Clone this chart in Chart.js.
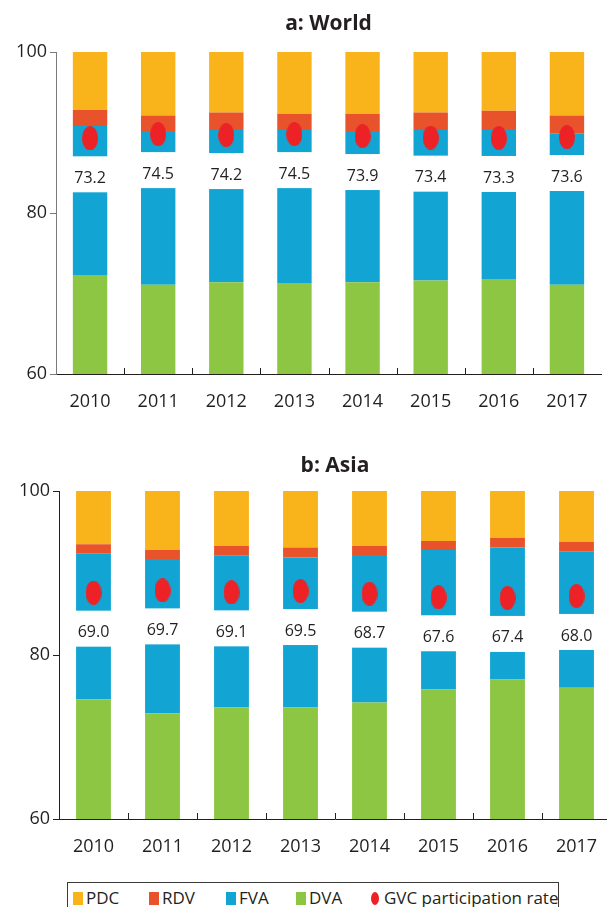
<!DOCTYPE html>
<html><head><meta charset="utf-8">
<script src="https://cdn.jsdelivr.net/npm/chart.js@4/dist/chart.umd.min.js"></script>
<style>
html,body{margin:0;padding:0;background:#fff;overflow:hidden;width:607px;height:907px;position:relative;}
canvas{display:block;}
#wrapA{position:absolute;left:0;top:0;}
#wrapB{position:absolute;left:0;top:440px;}
#legend{position:absolute;left:67px;top:882px;width:492px;height:34px;border:1px solid #3a3a3a;box-sizing:border-box;font-family:"Open Sans",sans-serif;font-size:17px;color:#231f20;}
.it{position:absolute;top:6px;height:20px;line-height:20px;white-space:nowrap;}
.mk{position:absolute;top:3px;width:10px;height:13px;}
.tx{position:absolute;left:13px;top:-1px;}
</style>
</head><body>
<div id="wrapA"><canvas id="cA" width="610" height="420"></canvas></div>
<div id="wrapB"><canvas id="cB" width="620" height="425"></canvas></div>
<div id="legend"></div>
<script>
// ---- data ----
const years = ['2010','2011','2012','2013','2014','2015','2016','2017'];
const yTicks = [60, 80, 100];

const worldDVA = [72.3, 71.1, 71.4, 71.3, 71.4, 71.6, 71.8, 71.1];
const worldFVA = [18.5, 19.1, 18.9, 19.0, 18.8, 18.7, 18.5, 18.8];
const worldRDV = [2.0, 1.9, 2.2, 2.0, 2.1, 2.2, 2.4, 2.2];
const worldPDC = [7.2, 7.9, 7.5, 7.7, 7.7, 7.5, 7.3, 7.9];
const worldGVC = [73.2, 74.5, 74.2, 74.5, 73.9, 73.4, 73.3, 73.6];

const asiaDVA = [74.6, 72.9, 73.6, 73.6, 74.2, 75.8, 77.0, 76.0];
const asiaFVA = [17.8, 18.8, 18.5, 18.3, 18.0, 17.0, 16.1, 16.6];
const asiaRDV = [1.1, 1.1, 1.2, 1.2, 1.1, 1.1, 1.2, 1.2];
const asiaPDC = [6.5, 7.2, 6.7, 6.9, 6.7, 6.1, 5.7, 6.2];
const asiaGVC = [69.0, 69.7, 69.1, 69.5, 68.7, 67.6, 67.4, 68.0];

const seriesNames = ['PDC', 'RDV', 'FVA', 'DVA', 'GVC participation rate'];
const colors = {PDC:'#F9B31B', RDV:'#E8532B', FVA:'#12A5D3', DVA:'#8DC642', GVC:'#EC2226'};
const FONT = '"Open Sans", sans-serif';
const TXT = '#231f20';

// ellipse point style
function ellipseCanvas(w, h, col){
  const c = document.createElement('canvas');
  c.width = w; c.height = h;
  const x = c.getContext('2d');
  x.fillStyle = col;
  x.beginPath();
  x.ellipse(w/2, h/2, w/2, h/2, 0, 0, Math.PI*2);
  x.fill();
  return c;
}
const dotImg = ellipseCanvas(16, 24, colors.GVC);

const gvcLabels = {
  id: 'gvcLabels',
  afterDatasetsDraw(chart){
    const ctx = chart.ctx;
    const barMeta = chart.getDatasetMeta(1);
    const ptMeta = chart.getDatasetMeta(4);
    const vals = chart.data.datasets[4].data;
    ptMeta.data.forEach((pt, i) => {
      const bar = barMeta.data[i];
      const w = bar.width;
      ctx.save();
      ctx.fillStyle = '#fff';
      ctx.fillRect(bar.x - w/2 - 1, pt.y + 18, w + 2, 36);
      ctx.fillStyle = TXT;
      ctx.font = '16px ' + FONT;
      ctx.textAlign = 'center';
      ctx.textBaseline = 'middle';
      ctx.fillText(vals[i].toFixed(1), bar.x, pt.y + 40);
      ctx.restore();
    });
  }
};

const extras = {
  id: 'extras',
  afterDraw(chart, args, opts){
    const ctx = chart.ctx;
    const ca = chart.chartArea;
    const xs = chart.scales.x;
    ctx.save();
    // inward ticks between categories
    ctx.strokeStyle = '#231f20';
    ctx.lineWidth = 1;
    for (let i = 1; i < chart.data.labels.length; i++){
      const px = Math.round((xs.getPixelForValue(i-1) + xs.getPixelForValue(i))/2) + 0.5;
      ctx.beginPath();
      ctx.moveTo(px, ca.bottom);
      ctx.lineTo(px, ca.bottom - 6);
      ctx.stroke();
    }
    // title centered over plot area
    ctx.fillStyle = TXT;
    ctx.font = 'bold 21px ' + FONT;
    ctx.textAlign = 'center';
    ctx.textBaseline = 'alphabetic';
    ctx.fillText(opts.text, (ca.left + ca.right)/2, opts.y);
    ctx.restore();
  }
};

function makeChart(id, title, titleY, dva, fva, rdv, pdc, gvc, leftW, topPad, axisH, yAxisColor){
  return new Chart(document.getElementById(id), {
    type: 'bar',
    data: {
      labels: years,
      datasets: [
        {label:'DVA', data:dva, backgroundColor:colors.DVA, stack:'s', order:1},
        {label:'FVA', data:fva, backgroundColor:colors.FVA, stack:'s', order:1},
        {label:'RDV', data:rdv, backgroundColor:colors.RDV, stack:'s', order:1},
        {label:'PDC', data:pdc, backgroundColor:colors.PDC, stack:'s', order:1},
        {type:'line', label:'GVC participation rate', data:gvc, yAxisID:'y2', showLine:false,
         pointStyle:dotImg, pointRadius:8, pointHoverRadius:8, backgroundColor:colors.GVC, order:0}
      ]
    },
    options: {
      responsive:false, animation:false, devicePixelRatio:1,
      layout:{padding:{top:topPad, left:0, right:0, bottom:0}},
      datasets:{bar:{barPercentage:0.505, categoryPercentage:1.0, borderWidth:0}},
      plugins:{legend:{display:false}, tooltip:{enabled:false}, title:{display:false},
        extras:{text:title, y:titleY}},
      scales:{
        x:{stacked:true, offset:true,
           grid:{display:false, drawTicks:false},
           border:{display:true, color:'#231f20', width:1},
           ticks:{color:TXT, font:{family:FONT, size:18}, padding:17},
           afterFit(s){ s.height = axisH; }},
        y:{stacked:true, min:60, max:100,
           afterBuildTicks(s){ s.ticks = yTicks.map(v => ({value:v})); },
           grid:{drawOnChartArea:false, drawTicks:true, tickLength:6, color:yAxisColor},
           border:{display:true, color:yAxisColor, width:1},
           ticks:{color:TXT, font:{family:FONT, size:18}, padding:3},
           afterFit(s){ s.width = leftW; }},
        y2:{display:false, min:0, max:100}
      }
    },
    plugins:[gvcLabels, extras]
  });
}

makeChart('cA', 'a: World', 30, worldDVA, worldFVA, worldRDV, worldPDC, worldGVC, 56, 52, 46, '#7a7a7a');
makeChart('cB', 'b: Asia', 32, asiaDVA, asiaFVA, asiaRDV, asiaPDC, asiaGVC, 59, 51, 46, '#231f20');

// legend
const lg = document.getElementById('legend');
const legendLeft = [5, 81, 158, 228, 303];
const legendCols = [colors.PDC, colors.RDV, colors.FVA, colors.DVA, colors.GVC];
seriesNames.forEach((n, i) => {
  const it = document.createElement('div');
  it.className = 'it';
  it.style.left = legendLeft[i] + 'px';
  const mk = document.createElement('span');
  mk.className = 'mk';
  mk.style.background = legendCols[i];
  if (i === 4){ mk.style.width = '8px'; mk.style.borderRadius = '50%'; }
  const tx = document.createElement('span');
  tx.className = 'tx';
  tx.textContent = n;
  it.appendChild(mk); it.appendChild(tx);
  lg.appendChild(it);
});
</script>
</body></html>
